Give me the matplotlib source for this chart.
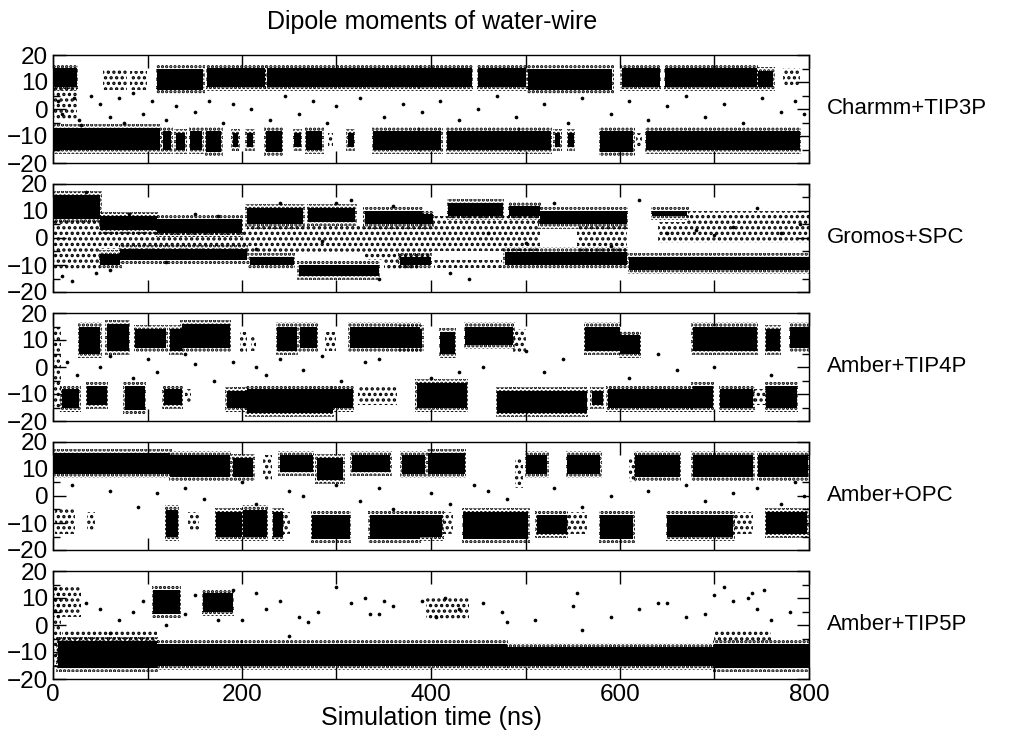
"""
Dipole moments of water-wire: five force-field panels
"""
import matplotlib
matplotlib.use("Agg")
import matplotlib.pyplot as plt
from matplotlib.ticker import MultipleLocator

plt.rcParams['font.family'] = ['Liberation Sans', 'DejaVu Sans']
plt.rcParams['hatch.linewidth'] = 1.6

# (t_start, t_end, dipole_low, dipole_high) of the crowded bands, ns / Debye
charmm_dense = [
    (0, 25, 8, 15), (110, 159, 7, 15), (163, 224, 8, 15), (226, 388, 8, 15),
    (388, 443, 8, 15), (450, 501, 8, 15), (503, 592, 7, 15), (602, 642, 8, 15),
    (648, 745, 8, 15), (746, 762, 8, 14),
    (0, 113, -15, -7), (116, 125, -15, -8), (130, 140, -15, -9), (145, 158, -15, -8),
    (162, 178, -16, -8), (190, 196, -14, -9), (205, 212, -14, -9), (225, 242, -16, -8),
    (255, 262, -14, -9), (268, 285, -15, -8), (312, 318, -14, -9), (339, 388, -15, -8),
    (388, 411, -15, -8), (417, 494, -15, -8), (494, 527, -15, -8), (531, 537, -14, -9),
    (545, 551, -14, -9), (579, 614, -16, -8), (628, 790, -15, -8),
]
charmm_loose = [
    (53, 78, 7, 15), (81, 99, 7, 14), (772, 790, 8, 15), (291, 296, -14, -9),
    (0, 25, -4, 8), (617, 623, -14, -9),
]
charmm_dots_t = [5, 10, 22, 27, 30, 40, 50, 60, 70, 75, 85, 95, 105, 120, 130, 150,
                 165, 180, 190, 210, 230, 245, 260, 275, 290, 300, 325, 350, 370, 390,
                 410, 430, 450, 470, 490, 520, 545, 560, 590, 610, 630, 650, 670, 690,
                 710, 730, 750, 770, 785, 795]
charmm_dots_y = [3, -2, 4, -4, -6, 5, 2, -3, 4, -5, 6, -2, 3, -4, 1, -1,
                 3, -5, 2, 0, -4, 5, -2, 3, -5, 1, 4, -3, 2, -1,
                 3, -4, 0, 5, -3, 2, -5, 4, -2, 3, -4, 1, 5, -3,
                 2, -5, 4, -1, 3, -2]

gromos_dense = [
    (0, 50, 7, 16), (50, 110, 3, 8), (110, 200, 2, 7), (205, 265, 5, 11),
    (270, 320, 6, 11), (330, 390, 5, 10), (390, 402, 5, 9), (418, 476, 8, 13),
    (483, 515, 8, 12), (515, 607, 5, 10), (634, 671, 8, 10),
    (50, 71, -10, -6), (71, 205, -8, -4), (208, 255, -10, -7), (260, 345, -14, -10),
    (367, 400, -10, -7), (478, 607, -10, -5), (610, 800, -12, -7),
]
gromos_loose = [
    (0, 50, -12, 7), (50, 205, -4, 3), (205, 330, -6, 5), (330, 400, -8, 5),
    (350, 388, -12, -8), (403, 475, -11, -8), (400, 515, -5, 8), (555, 607, -6, 5),
    (671, 800, 6, 10), (640, 800, -2, 6),
]
gromos_dots_t = [10, 20, 35, 45, 60, 80, 120, 150, 175, 215, 240, 285, 300, 315, 345,
                 360, 420, 440, 460, 500, 530, 590, 620, 650, 680, 700, 720, 745, 770, 790]
gromos_dots_y = [-14, -16, 17, -13, -12, 9, -9, 9, 8, -4, 13, -1, 13, 14, -15,
                 12, -13, -15, 2, -2, 13, -3, 14, 2, 3, 1, 4, 11, 2, 5]

tip4p_dense = [
    (28, 50, 5, 15), (57, 80, 6, 16), (87, 120, 7, 14), (124, 136, 6, 14),
    (136, 187, 7, 16), (237, 258, 6, 15), (261, 279, 7, 15), (314, 388, 7, 15),
    (367, 391, 7, 14), (410, 425, 5, 13), (436, 487, 8, 15), (563, 600, 6, 15),
    (600, 621, 5, 12), (677, 745, 6, 15), (755, 769, 6, 14), (780, 800, 7, 15),
    (9, 28, -15, -8), (36, 57, -14, -7), (76, 97, -16, -7), (117, 136, -14, -8),
    (184, 205, -15, -9), (205, 296, -17, -8), (296, 317, -15, -8), (385, 438, -15, -6),
    (470, 565, -17, -9), (570, 582, -14, -9), (587, 677, -15, -8), (677, 698, -15, -7),
    (706, 741, -15, -8), (755, 787, -15, -7),
]
tip4p_loose = [
    (0, 8, -15, 15), (198, 205, 5, 13), (209, 215, 6, 12), (288, 300, 6, 13),
    (487, 501, 5, 14), (323, 364, -14, -7), (140, 146, -13, -8), (741, 755, -14, -8),
]
tip4p_dots_t = [15, 25, 50, 60, 85, 100, 110, 140, 150, 170, 190, 215, 225, 240, 265,
                285, 305, 330, 345, 400, 430, 455, 500, 520, 540, 610, 640, 660, 700, 760]
tip4p_dots_y = [2, -3, 0, 4, -4, 3, -2, 5, 1, -5, 2, 0, -3, 3, -1,
                4, -5, 2, 3, -4, -2, 0, 6, -2, 3, -4, 5, -1, 0, -3]

opc_dense = [
    (0, 124, 8, 16), (124, 187, 7, 15), (190, 212, 7, 14), (240, 275, 9, 15),
    (279, 307, 6, 14), (316, 357, 9, 15), (369, 394, 8, 15), (397, 436, 8, 16),
    (501, 523, 8, 15), (544, 579, 8, 15), (616, 663, 7, 15), (677, 741, 7, 15),
    (746, 799, 7, 15),
    (120, 132, -15, -5), (173, 200, -15, -6), (201, 226, -15, -5), (233, 243, -15, -6),
    (274, 314, -16, -7), (335, 388, -16, -7), (386, 412, -15, -7), (434, 503, -16, -6),
    (512, 544, -14, -7), (579, 614, -16, -7), (650, 720, -15, -7), (755, 798, -14, -6),
]
opc_loose = [
    (222, 232, 6, 15), (489, 497, 3, 14), (610, 617, 5, 14), (2, 23, -14, -5),
    (36, 44, -13, -6), (143, 155, -13, -6), (243, 251, -14, -6), (412, 423, -14, -6),
    (544, 565, -14, -6), (720, 741, -14, -6), (367, 379, -14, -6),
]
opc_dots_t = [20, 60, 90, 110, 140, 160, 200, 215, 250, 265, 300, 325, 345, 360, 400,
              420, 445, 460, 480, 530, 560, 590, 630, 670, 690, 720, 745, 770, 785, 795]
opc_dots_y = [4, 2, -4, 1, 3, -1, 5, -3, 2, 0, 4, -2, 3, -5, 1,
              -3, 4, 2, -1, 3, -4, 0, 2, 4, -2, 1, 3, -3, 5, 0]

tip5p_dense = [
    (106, 134, 4, 13), (159, 190, 5, 12),
    (5, 110, -16, -6), (110, 200, -15, -7), (200, 480, -15, -7),
    (480, 700, -15, -8), (700, 800, -16, -7),
]
tip5p_loose = [
    (0, 30, 3, 15), (0, 8, -15, 15), (10, 110, -6, -2), (700, 760, -6, -2),
    (395, 440, 2, 10),
]
tip5p_dots_t = [35, 50, 70, 85, 95, 140, 150, 200, 215, 225, 240, 260, 280, 300, 315,
                330, 345, 360, 390, 405, 415, 430, 475, 480, 510, 550, 555, 590, 620, 650,
                690, 700, 720, 735, 745, 752, 760, 780, 60, 120, 175, 190, 250, 270, 335,
                350, 455, 560, 640, 670, 710, 740]
tip5p_dots_y = [8, 6, 2, 5, 9, 4, 11, 2, 12, 6, 9, 3, 5, 14, 8,
                10, 4, 7, 9, 3, 10, 6, 5, 1, 2, 7, 12, 3, 6, 8,
                4, 11, 9, 10, 6, 13, 2, 5, -3, 0, 2, 13, -4, 1, 4,
                9, 8, -2, 8, 3, 14, 12]

panel_labels = ["Charmm+TIP3P", "Gromos+SPC", "Amber+TIP4P", "Amber+OPC", "Amber+TIP5P"]
panels = [
    (charmm_dense, charmm_loose, charmm_dots_t, charmm_dots_y),
    (gromos_dense, gromos_loose, gromos_dots_t, gromos_dots_y),
    (tip4p_dense, tip4p_loose, tip4p_dots_t, tip4p_dots_y),
    (opc_dense, opc_loose, opc_dots_t, opc_dots_y),
    (tip5p_dense, tip5p_loose, tip5p_dots_t, tip5p_dots_y),
]

W, H = 1011, 740
fig = plt.figure(figsize=(W / 100, H / 100), dpi=100)

left, width, height = 53 / W, 756 / W, 108 / H
tops = [55, 184, 313, 442, 571]


def draw_solid(ax, segs):
    for t0, t1, lo, hi in segs:
        ax.bar(t0, hi - lo, width=t1 - t0, bottom=lo, align='edge',
               color='black', linewidth=0)


def draw_dotted(ax, segs, hatch, grow=0.0):
    # scattered points shown as a dot texture over the segment
    for t0, t1, lo, hi in segs:
        ax.bar(t0 - grow, hi - lo + 2 * grow, width=t1 - t0 + 2 * grow,
               bottom=lo - grow, align='edge', facecolor='none',
               edgecolor='black', hatch=hatch, linewidth=0)


for i, (dense, loose, dt, dy) in enumerate(panels):
    ax = fig.add_axes([left, 1 - (tops[i] + 108) / H, width, height])
    draw_dotted(ax, loose, '...')
    draw_dotted(ax, dense, '....', grow=1.5)
    draw_solid(ax, dense)
    ax.scatter(dt, dy, s=7, c='black', linewidths=0)

    ax.set_xlim(0, 800)
    ax.set_ylim(-20, 20)
    ax.xaxis.set_major_locator(MultipleLocator(200))
    ax.xaxis.set_minor_locator(MultipleLocator(100))
    ax.yaxis.set_major_locator(MultipleLocator(10))
    ax.yaxis.set_minor_locator(MultipleLocator(5))
    ax.tick_params(which='both', direction='in', top=True, right=True,
                   labelsize=17.5, width=1)
    ax.tick_params(axis='x', which='both', length=9)
    ax.tick_params(axis='y', which='major', length=9)
    ax.tick_params(axis='y', which='minor', length=5)
    if i < 4:
        ax.tick_params(axis='x', labelbottom=False)
    else:
        ax.set_xlabel("Simulation time (ns)", fontsize=18, labelpad=0)
    for sp in ax.spines.values():
        sp.set_linewidth(1)
    ax.text(1.024, 0.5, panel_labels[i], transform=ax.transAxes,
            ha='left', va='center', fontsize=16)

fig.text(432 / W, 1 - 22 / H, "Dipole moments of water-wire",
         ha='center', va='center', fontsize=18)

fig.savefig("out.png", dpi=100)
